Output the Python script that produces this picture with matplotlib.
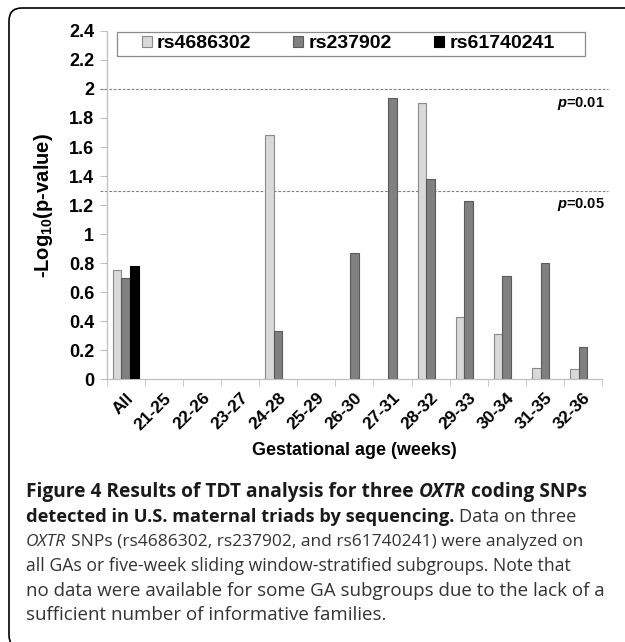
import numpy as np
import matplotlib
matplotlib.use("Agg")
import matplotlib.pyplot as plt
from matplotlib.patches import FancyBboxPatch, Rectangle
from matplotlib.lines import Line2D

# ---------------- data ----------------
categories = ["All", "21-25", "22-26", "23-27", "24-28", "25-29", "26-30",
              "27-31", "28-32", "29-33", "30-34", "31-35", "32-36"]
rs4686302 = [0.75, None, None, None, 1.68, None, None, None, 1.90, 0.43, 0.31, 0.08, 0.07]
rs237902 = [0.70, None, None, None, 0.33, None, 0.87, 1.94, 1.38, 1.23, 0.71, 0.80, 0.22]
rs61740241 = [0.78, None, None, None, None, None, None, None, None, None, None, None, None]
series_names = ["rs4686302", "rs237902", "rs61740241"]
yticks = [0, 0.2, 0.4, 0.6, 0.8, 1, 1.2, 1.4, 1.6, 1.8, 2, 2.2, 2.4]
ytick_labels = ["0", "0.2", "0.4", "0.6", "0.8", "1", "1.2", "1.4", "1.6", "1.8", "2", "2.2", "2.4"]
thresholds = [2.0, 1.3]
threshold_labels = ["0.01", "0.05"]

caption_lines = [
    [("Figure 4 Results of TDT analysis for three ", "bold", "normal"),
     ("OXTR", "bold", "italic"), (" coding SNPs", "bold", "normal")],
    [("detected in U.S. maternal triads by sequencing.", "bold", "normal"),
     (" Data on three", "normal", "normal")],
    [("OXTR", "normal", "italic"),
     (" SNPs (rs4686302, rs237902, and rs61740241) were analyzed on", "normal", "normal")],
    [("all GAs or five-week sliding window-stratified subgroups. Note that", "normal", "normal")],
    [("no data were available for some GA subgroups due to the lack of a", "normal", "normal")],
    [("sufficient number of informative families.", "normal", "normal")],
]
# right edge (pixels) each caption line reaches in the reference
caption_right = [585, 578, 583, 572, 604, None]

# ---------------- style ----------------
plt.rcParams['font.family'] = ['Liberation Sans', 'DejaVu Sans']
plt.rcParams['mathtext.fontset'] = 'custom'
plt.rcParams['mathtext.rm'] = 'Liberation Sans:weight=bold'
plt.rcParams['mathtext.bf'] = 'Liberation Sans:weight=bold'
plt.rcParams['mathtext.it'] = 'Liberation Sans:style=italic:weight=bold'

W, H = 625, 642
fig = plt.figure(figsize=(W / 100, H / 100), dpi=100)
fig.patch.set_facecolor('white')

ax_l, ax_r, ax_b, ax_t = 106.7, 602.0, 379.3, 30.9
ax = fig.add_axes([ax_l / W, (H - ax_b) / H, (ax_r - ax_l) / W, (ax_b - ax_t) / H])

colors = ["#d9d9d9", "#808080", "#000000"]
edges = ["#8a8a8a", "#5a5a5a", "#000000"]
bw = 0.228
x = np.arange(len(categories))
all_series = [rs4686302, rs237902, rs61740241]
for i, (vals, c, e) in enumerate(zip(all_series, colors, edges)):
    xs = [xi + (i - 1) * bw for xi, v in zip(x, vals) if v is not None]
    hs = [v for v in vals if v is not None]
    ax.bar(xs, hs, width=bw, color=c, edgecolor=e, linewidth=0.8, zorder=3)

ax.set_xlim(-0.5, len(categories) - 0.5)
ax.set_ylim(0, 2.4)
ax.set_yticks(yticks)
ax.set_yticklabels(ytick_labels, fontsize=13, fontweight='bold')
ax.set_xticks(np.arange(len(categories) + 1) - 0.5, minor=True)
ax.set_xticks(x)
ax.set_xticklabels(categories, rotation=45, ha='right', rotation_mode='anchor',
                   fontsize=12.5, fontweight='bold')
ax.tick_params(axis='x', which='major', length=0, pad=8)
ax.tick_params(axis='x', which='minor', length=5, color='#bfbfbf', direction='out')
ax.tick_params(axis='y', length=5, color='#bfbfbf', direction='out', pad=4)
for s in ['top', 'right']:
    ax.spines[s].set_visible(False)
for s in ['left', 'bottom']:
    ax.spines[s].set_color('#bfbfbf')
    ax.spines[s].set_linewidth(0.9)

for thr, lab in zip(thresholds, threshold_labels):
    ax.add_line(Line2D([-0.013, 1.012], [thr / 2.4] * 2, transform=ax.transAxes,
                       color='#808080', linestyle=(0, (2.5, 1.5)), linewidth=0.8,
                       clip_on=False, zorder=2))
    ax.text(1.005, thr - 0.04, r'$p$=' + lab, transform=ax.get_yaxis_transform(),
            ha='right', va='top', fontsize=10.5, fontweight='bold')

ax.set_ylabel(r'-Log$_{\mathbf{10}}$(p-value)', fontsize=14.5, fontweight='bold', labelpad=10)
ax.set_xlabel('Gestational age (weeks)', fontsize=13, fontweight='bold', labelpad=7)

# legend (entries through the legend API, frame drawn as a separate box behind it)
handles = [plt.Rectangle((0, 0), 1, 1, facecolor=c, edgecolor=e, linewidth=0.8)
           for c, e in zip(colors, edges)]
leg_x, leg_y = 141.5, 44.0  # pixel anchor (left, vertical centre)
leg = ax.legend(handles, series_names, ncol=3, loc='center left',
                bbox_to_anchor=((leg_x - ax_l) / (ax_r - ax_l), 1 - (leg_y - ax_t) / (ax_b - ax_t)),
                prop={'weight': 'bold', 'size': 14}, frameon=False,
                handlelength=0.52, handleheight=0.52, handletextpad=0.28,
                columnspacing=2.15, borderpad=0, borderaxespad=0)
leg.set_zorder(8)
box = Rectangle((117, H - 55.5), 584.5 - 117, 23.5, transform=None, facecolor='white',
                edgecolor='#8a8a8a', linewidth=0.9, zorder=7, clip_on=False)
ax.add_artist(box)

# ---------------- rounded frame ----------------
frame = FancyBboxPatch((9, -6), 700, H - 8 + 6, boxstyle="round,pad=0,rounding_size=13",
                       transform=None, facecolor='none', edgecolor='black',
                       linewidth=1.2, zorder=10)
fig.patches.append(frame)

# ---------------- caption ----------------
fig.canvas.draw()
renderer = fig.canvas.get_renderer()
cap_font = ['Open Sans', 'DejaVu Sans']
base_size = 13.6
x0 = 26
y_base0 = H - 497
line_gap = 24.7


def text_width(s, weight, style, size):
    t = fig.text(0, 0, s, fontsize=size, family=cap_font, fontweight=weight,
                 fontstyle=style, transform=None)
    w = t.get_window_extent(renderer).width
    t.remove()
    return w


def line_width(segs, size):
    total = 0
    for s, weight, style in segs:
        lead = len(s) - len(s.lstrip(' '))
        if lead:
            sp = text_width('x x', weight, style, size) - text_width('xx', weight, style, size)
            total += sp * lead
        total += text_width(s.lstrip(' '), weight, style, size)
    return total


prev_size = base_size
for li, segs in enumerate(caption_lines):
    target = caption_right[li]
    if target is None:
        size = prev_size
    else:
        size = base_size * (target - x0) / line_width(segs, base_size)
    prev_size = size
    cx = x0
    yb = y_base0 - li * line_gap
    for s, weight, style in segs:
        lead = len(s) - len(s.lstrip(' '))
        if lead:
            sp = text_width('x x', weight, style, size) - text_width('xx', weight, style, size)
            cx += sp * lead
            s = s.lstrip(' ')
        t = fig.text(cx, yb, s, fontsize=size, family=cap_font, fontweight=weight,
                     fontstyle=style, transform=None, va='baseline', ha='left',
                     color='#1a1a1a' if weight == 'bold' else '#333333')
        cx += t.get_window_extent(renderer).width

fig.savefig('out.png', dpi=100)
